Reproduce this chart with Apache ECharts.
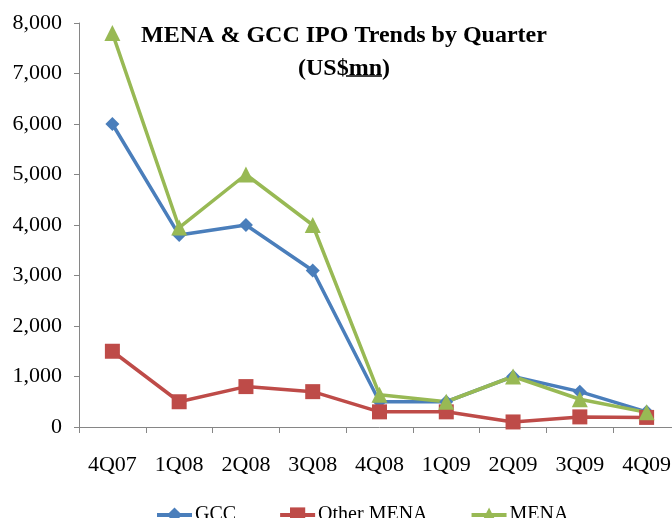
<!DOCTYPE html>
<html>
<head>
<meta charset="utf-8">
<script src="https://cdn.jsdelivr.net/npm/echarts@6/dist/echarts.min.js"></script>
<style>
html,body{margin:0;padding:0;background:#fff;overflow:hidden;}
#chart{width:692px;height:518px;}
</style>
</head>
<body>
<div id="chart"></div>
<script>
var categories = ['4Q07','1Q08','2Q08','3Q08','4Q08','1Q09','2Q09','3Q09','4Q09'];
var gcc = [6000, 3800, 4000, 3100, 500, 500, 1000, 700, 300];
var otherMena = [1500, 500, 800, 700, 300, 300, 100, 200, 190];
var mena = [7800, 3950, 5000, 4000, 640, 500, 1000, 550, 290];
var yTicks = [0, 1000, 2000, 3000, 4000, 5000, 6000, 7000, 8000];

var FONT = 'Liberation Serif';
var chart = echarts.init(document.getElementById('chart'));
chart.setOption({
  animation: false,
  backgroundColor: '#ffffff',
  graphic: [
    {type:'text', x: 344, y: 24, style:{text:'MENA & GCC IPO Trends by Quarter', font:'bold 24px "Liberation Serif"', fill:'#000', align:'center'}},
    {type:'text', x: 344, y: 57, style:{text:'(US$mn)', font:'bold 24px "Liberation Serif"', fill:'#000', align:'center'}},
    {type:'line', shape:{x1:346, y1:76, x2:382, y2:76}, style:{stroke:'#000', lineWidth:1.5}}
  ],
  legend: {
    left: 150, top: 500,
    itemWidth: 35, itemHeight: 19, itemGap: 42,
    lineStyle: {width: 4},
    textStyle: {fontFamily: FONT, fontSize: 20, color: '#000', padding: [0,0,0,-2]},
    data: ['GCC','Other MENA','MENA']
  },
  grid: {left: 79, top: 23, width: 601, height: 404, containLabel: false},
  xAxis: {
    type: 'category', data: categories, boundaryGap: true,
    axisLine: {lineStyle: {color: '#868686', width: 1}},
    axisTick: {show: true, interval: 0, length: 6, lineStyle: {color: '#868686'}},
    axisLabel: {interval: 0, margin: 27, fontFamily: FONT, fontSize: 22, color: '#000'},
    splitLine: {show: false}
  },
  yAxis: {
    type: 'value', min: yTicks[0], max: yTicks[yTicks.length-1], interval: 1000,
    axisLine: {show: true, lineStyle: {color: '#868686', width: 1}},
    axisTick: {show: true, length: 5, lineStyle: {color: '#868686'}},
    axisLabel: {margin: 17, fontFamily: FONT, fontSize: 22, color: '#000',
      formatter: function(v){ return v.toLocaleString('en-US'); }},
    splitLine: {show: false}
  },
  series: [
    {name:'GCC', type:'line', data: gcc, symbol:'diamond', symbolSize: 14,
     lineStyle:{color:'#4a7ebb', width:3.5}, itemStyle:{color:'#4a7ebb'}},
    {name:'Other MENA', type:'line', data: otherMena, symbol:'rect', symbolSize: 15,
     lineStyle:{color:'#be4b48', width:3.5}, itemStyle:{color:'#be4b48'}},
    {name:'MENA', type:'line', data: mena, symbol:'triangle', symbolSize: 16,
     lineStyle:{color:'#98b954', width:3.5}, itemStyle:{color:'#98b954'}}
  ]
});
</script>
</body>
</html>
